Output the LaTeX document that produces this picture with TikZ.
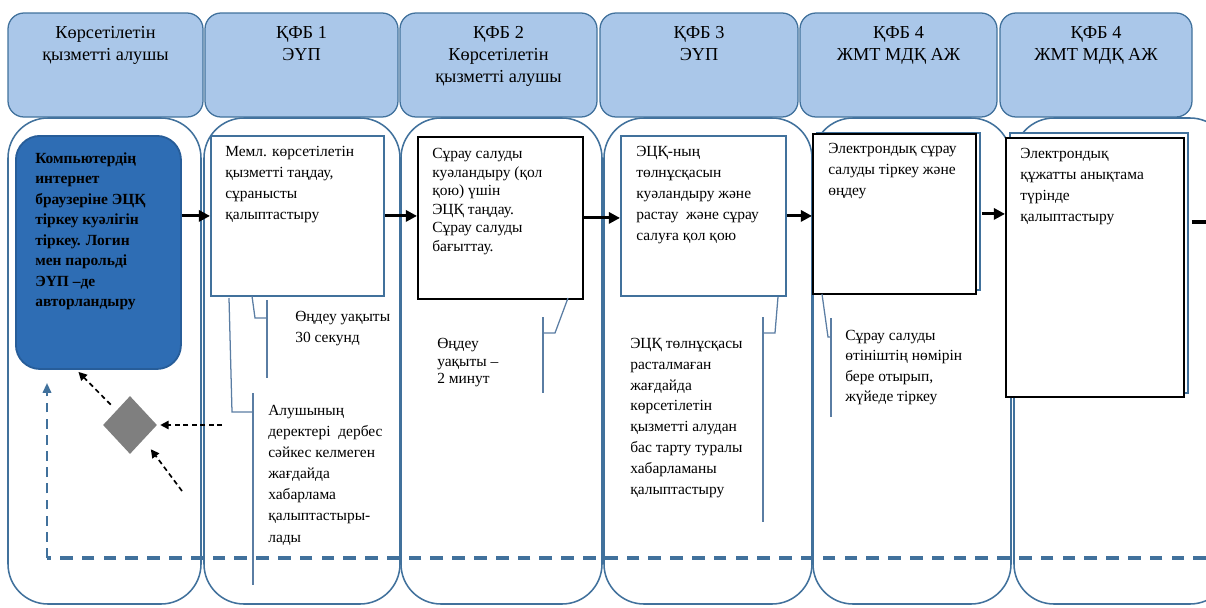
\documentclass[tikz,border=0pt]{standalone}
\usepackage{fontspec}
\setmainfont{Liberation Serif}
\usetikzlibrary{arrows.meta,shapes.geometric,calc}

\definecolor{lanec}{HTML}{41719C}
\definecolor{hdrfill}{HTML}{AAC7E9}
\definecolor{darkbox}{HTML}{2E6DB4}
\definecolor{calloutc}{HTML}{5A7DA3}
\definecolor{diamc}{HTML}{7F7F7F}

\tikzset{
  lane/.style={draw=lanec, line width=1.1pt, rounded corners=1cm},
  hdr/.style={draw=lanec, fill=hdrfill, line width=0.9pt, rounded corners=0.4cm},
  hdrtxt/.style={anchor=north, align=center, inner sep=0pt, font=\fontsize{13}{15.6}\selectfont},
  procbox/.style={anchor=north west, inner sep=0pt, fill=white, line width=1.3pt},
  boxtxt/.style={anchor=north west, inner sep=0pt, align=left, font=\fontsize{11}{15}\selectfont},
  flow/.style={line width=2.2pt, -{Triangle[length=8pt,width=8pt]}},
  dflow/.style={line width=1.2pt, dash pattern=on 3.5pt off 2.5pt, -{Triangle[length=6pt,width=6pt]}},
  callout/.style={draw=calloutc, line width=0.9pt},
  ret/.style={draw=lanec, line width=2.4pt, dash pattern=on 9pt off 6.5pt}
}

\begin{document}
\begin{tikzpicture}[x=0.025cm, y=-0.025cm]
\useasboundingbox (0,0) rectangle (1206,607);
\clip (0,0) rectangle (1206,607);

\foreach \xa/\xb in {8/201, 204/400, 401/602, 604/812, 813/1011, 1014/1230}
  \draw[lane] (\xa,118) rectangle (\xb,604);

\foreach \xa/\xb/\txt [count=\i] in {8/203/{Көрсетілетін\\қызметті алушы}, 205/398/{ҚФБ 1\\ЭҮП},
    400/597/{ҚФБ 2\\Көрсетілетін\\қызметті алушы}, 600/798/{ҚФБ 3\\ЭҮП},
    800/997/{ҚФБ 4\\ЖМТ МДҚ АЖ}, 1000/1192/{ҚФБ 4\\ЖМТ МДҚ АЖ}} {
  \draw[hdr] (\xa,13) rectangle (\xb,117);
  \node[hdrtxt] (h\i) at ({(\xa+\xb)/2},26) {\txt};
}

% process boxes
\node[procbox, draw=darkbox!85!black, fill=darkbox, rounded corners=0.6cm,
  minimum width=4.125cm, minimum height=5.825cm] (A) at (15,135) {};
\node[boxtxt, font=\bfseries\fontsize{11}{14.6}\selectfont] (At) at (35,152)
  {Компьютердің\\интернет\\браузеріне ЭЦҚ\\тіркеу куәлігін\\тіркеу. Логин\\мен парольді\\ЭҮП –де\\авторландыру};

\node[procbox, draw=lanec, minimum width=4.325cm, minimum height=4cm] (B) at (210,135) {};
\node[boxtxt] (Bt) at (225,146) {Мемл. көрсетілетін\\қызметті таңдау,\\сұранысты\\қалыптастыру};

\node[procbox, draw=black, minimum width=4.125cm, minimum height=4.05cm] (C) at (417,136) {};
\node[boxtxt, font=\fontsize{11}{13.2}\selectfont] (Ct) at (432,148)
  {Сұрау салуды\\куәландыру (қол\\қою) үшін\\ЭЦҚ таңдау.\\Сұрау салуды\\бағыттау.};

\node[procbox, draw=lanec, minimum width=4.125cm, minimum height=4cm] (D) at (620,135) {};
\node[boxtxt] (Dt) at (636,146) {ЭЦҚ-ның\\төлнұсқасын\\куәландыру және\\растау\ \ және сұрау\\салуға қол қою};

\draw[draw=lanec, line width=1.3pt, fill=white] (817,133) rectangle (980,290);
\node[procbox, draw=black, minimum width=4.075cm, minimum height=4cm] (E) at (812,133) {};
\node[boxtxt] (Et) at (828,143) {Электрондық сұрау\\салуды тіркеу және\\өңдеу};

\draw[draw=lanec, line width=1.3pt, fill=white] (1010,133) rectangle (1188,393);
\node[procbox, draw=black, minimum width=4.45cm, minimum height=6.475cm] (F) at (1005,137) {};
\node[boxtxt] (Ft) at (1020,148) {Электрондық\\құжатты анықтама\\түрінде\\қалыптастыру};

\draw[flow] (A.east |- B.west) -- (B.west);
\draw[flow] (B.east) -- (C.west |- B.east);
\draw[flow] (C.east) -- (D.west |- C.east);
\draw[flow] (D.east) -- (E.west |- D.east);
\draw[flow] ($(E.east)+(5,0)$) -- (F.west |- E.east);
\coordinate (Fout) at (1206,222);
\draw[line width=2.2pt] ($(F.east |- Fout)+(7,0)$) -- (Fout);

% callouts
\draw[callout] (252,296) -- (255,318) -- (267,318);
\draw[callout] (267,300) -- (267,378);
\node[boxtxt] (c1) at (295,311) {Өңдеу уақыты\\30 секунд};

\draw[callout] (229,298) -- (232,412) -- (253,412);
\draw[callout] (253,393) -- (253,585);
\node[boxtxt] (c2) at (268,405)
  {Алушының\\деректері\ \ дербес\\сәйкес келмеген\\жағдайда\\хабарлама\\қалыптастыры-\\лады};

\draw[callout] (568,298) -- (555,333) -- (543,333);
\draw[callout] (543,317) -- (543,393);
\node[boxtxt, font=\fontsize{11}{12.5}\selectfont] (c3) at (437,338) {Өңдеу\\уақыты –\\2 минут};

\draw[callout] (778,297) -- (775,333) -- (763,333);
\draw[callout] (763,317) -- (763,522);
\node[boxtxt, font=\fontsize{11}{14.8}\selectfont] (c4) at (630,338)
  {ЭЦҚ төлнұсқасы\\расталмаған\\жағдайда\\көрсетілетін\\қызметті алудан\\бас тарту туралы\\хабарламаны\\қалыптастыру};

\draw[callout] (822,294) -- (828,337) -- (831,337);
\draw[callout] (831,318) -- (831,417);
\node[boxtxt, font=\fontsize{11}{14.4}\selectfont] (c5) at (845,330)
  {Сұрау салуды\\өтініштің нөмірін\\бере отырып,\\жүйеде тіркеу};

% decision
\node[diamond, fill=diamc, inner sep=0pt, minimum width=1.35cm, minimum height=1.45cm] (dia) at (130,425) {};
\coordinate (d1) at (222,425);
\coordinate (d2) at (182,491);
\draw[dflow] (d1) -- ($(dia.east)+(3,0)$);
\draw[dflow, shorten >=0.3cm] (d2) -- (dia.south east);
\draw[dflow, shorten <=0.2cm] (dia.north west) -- ($(A.south)+(-20,2)$);

% return line
\coordinate (retin) at (1206,558);
\coordinate (retup) at (47,383);
\draw[ret] (retin) -- (retup |- retin);
\draw[draw=lanec, line width=1.4pt, dash pattern=on 7pt off 4.5pt, -{Triangle[length=7pt,width=6pt]}]
  (retup |- retin) -- (retup);
\end{tikzpicture}
\end{document}
